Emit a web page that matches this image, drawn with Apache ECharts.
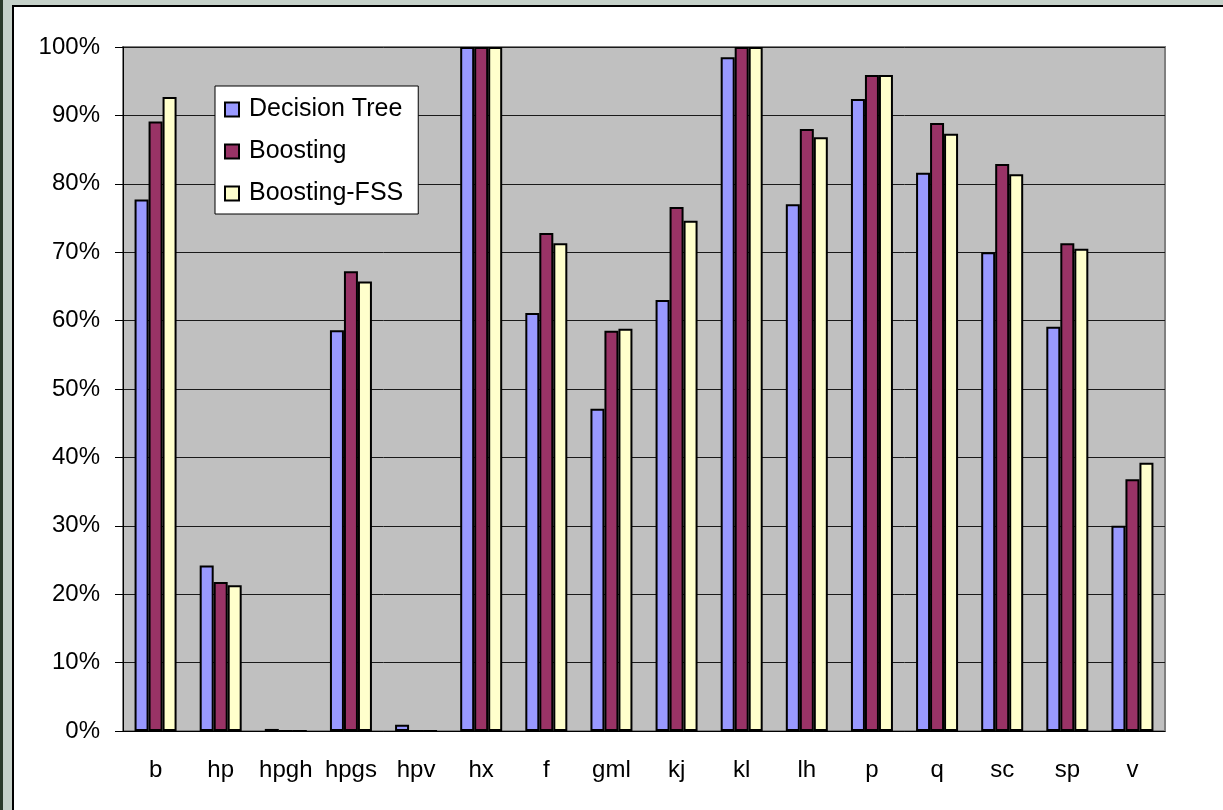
<!DOCTYPE html>
<html>
<head>
<meta charset="utf-8">
<script src="https://cdn.jsdelivr.net/npm/echarts@6/dist/echarts.min.js"></script>
<style>
  html, body { margin: 0; padding: 0; background: #fff; }
  #main { width: 1223px; height: 810px; }
</style>
</head>
<body>
<div id="main"></div>
<script>
var categories = ['b', 'hp', 'hpgh', 'hpgs', 'hpv', 'hx', 'f', 'gml', 'kj', 'kl', 'lh', 'p', 'q', 'sc', 'sp', 'v'];
var decisionTree = [77.7, 24.2, 0.3, 58.6, 0.9, 100, 61.1, 47.1, 63.0, 98.5, 77.0, 92.4, 81.6, 70.0, 59.1, 30.0];
var boosting = [89.1, 21.8, 0, 67.2, 0, 100, 72.8, 58.5, 76.6, 100, 88.0, 95.9, 88.9, 82.9, 71.3, 36.8];
var boostingFSS = [92.7, 21.3, 0, 65.7, 0, 100, 71.3, 58.8, 74.6, 100, 86.8, 95.9, 87.3, 81.4, 70.5, 39.2];

var chartDom = document.getElementById('main');
var myChart = echarts.init(chartDom, null, { renderer: 'canvas' });
var font = '"Liberation Sans", Arial, sans-serif';

function barSeries(name, data, color) {
    return {
        name: name,
        type: 'bar',
        data: data,
        barWidth: 14,
        barGap: '0%',
        itemStyle: { color: color, borderColor: '#000', borderWidth: 2 },
        emphasis: { disabled: true }
    };
}

var option = {
    animation: false,
    textStyle: { fontFamily: font },
    graphic: [
        // outer frame like the screenshot
        { type: 'rect', z: -10, silent: true, shape: { x: 0, y: 0, width: 1223, height: 810 }, style: { fill: '#c5d1c9' } },
        { type: 'rect', z: -10, silent: true, shape: { x: 0, y: 0, width: 3, height: 810 }, style: { fill: '#2a3a2a' } },
        { type: 'rect', z: -9, silent: true, shape: { x: 13, y: 6, width: 1215, height: 810 }, style: { fill: '#fff', stroke: '#000', lineWidth: 2 } }
    ],
    grid: {
        left: 123, top: 47, right: 58, bottom: 79,
        show: true,
        backgroundColor: '#c0c0c0',
        borderColor: '#808080',
        borderWidth: 2
    },
    legend: {
        orient: 'vertical',
        left: 215, top: 86,
        backgroundColor: '#fff',
        borderColor: '#000',
        borderWidth: 1,
        padding: [11, 15, 8, 9],
        itemWidth: 14, itemHeight: 14,
        itemGap: 17,
        icon: 'rect',
        textStyle: { fontFamily: font, fontSize: 25, color: '#000', lineHeight: 24, padding: [0, 0, 0, 5] },
        data: ['Decision Tree', 'Boosting', 'Boosting-FSS']
    },
    xAxis: {
        type: 'category',
        data: categories,
        axisLine: { lineStyle: { color: '#000', width: 1 } },
        axisTick: { length: 8, lineStyle: { color: '#000' } },
        axisLabel: { interval: 0, fontSize: 24, color: '#000', margin: 27, fontFamily: font }
    },
    yAxis: {
        type: 'value',
        min: 0, max: 100, interval: 10,
        axisLine: { show: true, lineStyle: { color: '#000', width: 1 } },
        axisTick: { show: true, length: 8, lineStyle: { color: '#000' } },
        axisLabel: { fontSize: 24, color: '#000', margin: 23, fontFamily: font, formatter: '{value}%' },
        splitLine: { lineStyle: { color: '#1a1a1a', width: 1 } }
    },
    series: [
        barSeries('Decision Tree', decisionTree, '#9999ff'),
        barSeries('Boosting', boosting, '#993366'),
        barSeries('Boosting-FSS', boostingFSS, '#ffffcc')
    ]
};

option && myChart.setOption(option);
</script>
</body>
</html>
